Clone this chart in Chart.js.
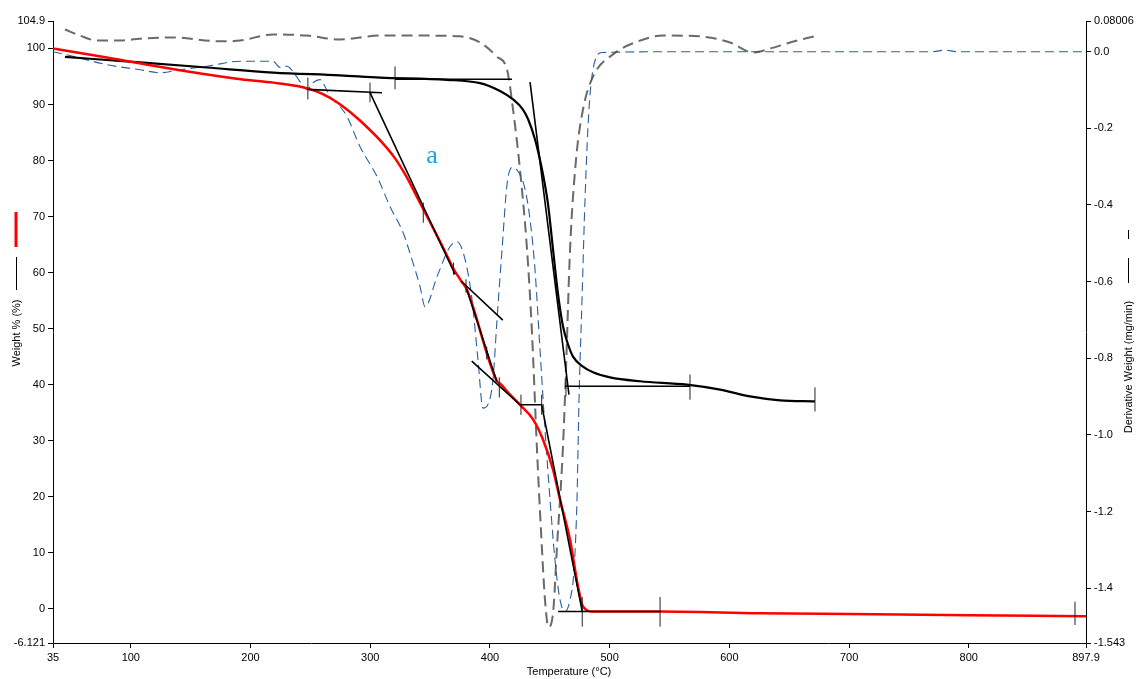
<!DOCTYPE html>
<html>
<head>
<meta charset="utf-8">
<script src="https://cdn.jsdelivr.net/npm/chart.js@4/dist/chart.umd.min.js"></script>
<style>
html,body{margin:0;padding:0;background:#fff;}
#wrap{width:1137px;height:679px;position:relative;}
</style>
</head>
<body>
<div id="wrap"><canvas id="c" width="1137" height="679"></canvas></div>
<script>
// ---------- axis ticks ----------
const xTickValues = [35, 100, 200, 300, 400, 500, 600, 700, 800, 897.9];
const xTickLabels = ['35', '100', '200', '300', '400', '500', '600', '700', '800', '897.9'];
const yLeftTickValues = [-6.121, 0, 10, 20, 30, 40, 50, 60, 70, 80, 90, 100, 104.9];
const yLeftTickLabels = ['-6.121', '0', '10', '20', '30', '40', '50', '60', '70', '80', '90', '100', '104.9'];
const yRightTickValues = [-1.543, -1.4, -1.2, -1.0, -0.8, -0.6, -0.4, -0.2, 0.0, 0.08006];
const yRightTickLabels = ['-1.543', '-1.4', '-1.2', '-1.0', '-0.8', '-0.6', '-0.4', '-0.2', '0.0', '0.08006'];

// ---------- sample a (red) weight % ----------
const redTemp = [35, 80, 136, 192, 219, 239, 250, 260, 270, 280, 290, 300, 310, 320, 330, 340, 350, 360, 370, 376, 380.6, 405.9, 408.4, 416.8, 425.1, 436, 444.3, 452.7, 458.5, 466.9, 473.6, 477.7, 486.1, 542, 625, 700, 800, 897.9];
const redWeight = [100, 98.4, 96.3, 94.5, 93.9, 93.3, 92.7, 91.9, 90.7, 89.2, 87.4, 85.4, 83.2, 80.6, 77.2, 73.1, 69.0, 64.8, 60.5, 58.5, 57.0, 40.6, 40.2, 38.2, 36.4, 33.8, 30.2, 24.8, 19.5, 12.3, 3.9, 0.4, -0.5, -0.5, -0.8, -0.95, -1.15, -1.35];

// ---------- second sample (black) weight % ----------
const blackTemp = [45, 107.7, 163.6, 219, 274.7, 308.2, 364.1, 391.7, 408.4, 419.3, 427.6, 431.8, 437.6, 443.5, 448.5, 452.7, 456.9, 461, 465.2, 469.4, 477.7, 486.1, 500.3, 525.4, 564.6, 592.2, 617.2, 642.3, 671.5];
const blackWeight = [98.5, 97.5, 96.6, 95.7, 95.2, 94.8, 94.4, 93.8, 92.4, 90.9, 89.1, 87.4, 83.8, 78.4, 72.2, 64.1, 56.1, 50.4, 47.2, 45.0, 43.2, 42.2, 41.3, 40.6, 40.0, 39.1, 37.9, 37.2, 37.0];

// ---------- derivative of sample a (blue dashed) ----------
const blueTemp = [35, 51.7, 80.1, 107.7, 124.4, 141.1, 163.6, 191.2, 218.8, 224.6, 230.5, 235.5, 241.3, 247.2, 252.2, 258, 266.4, 274.7, 280.6, 291.5, 305.7, 316.5, 327.4, 335.7, 341.6, 345.8, 355.8, 366.6, 372.5, 379.2, 385, 390, 394.2, 398.4, 402.5, 405.9, 410.1, 414.3, 418.4, 423.4, 429.3, 433.5, 437.6, 441.8, 446, 450.2, 454.3, 458.5, 462.7, 466.9, 470.2, 472.7, 474.4, 476.9, 479.4, 482.7, 486.9, 493.6, 575.5, 770, 780, 790, 897.9];
const blueDeriv = [0.0, -0.012, -0.034, -0.047, -0.055, -0.047, -0.038, -0.025, -0.025, -0.041, -0.038, -0.052, -0.078, -0.099, -0.081, -0.073, -0.117, -0.143, -0.169, -0.248, -0.326, -0.404, -0.472, -0.551, -0.613, -0.666, -0.587, -0.509, -0.496, -0.542, -0.647, -0.804, -0.93, -0.92, -0.856, -0.699, -0.516, -0.346, -0.302, -0.312, -0.359, -0.438, -0.568, -0.777, -0.986, -1.169, -1.326, -1.430, -1.461, -1.430, -1.352, -1.169, -0.908, -0.647, -0.386, -0.151, -0.034, -0.002, 0.0, 0.0, 0.004, 0.0, 0.0];

// ---------- derivative of second sample (grey dashed) ----------
const greyTemp = [45, 57.6, 71.8, 91, 107.7, 135.2, 174.5, 191.2, 218.8, 247.2, 274.7, 308.2, 341.6, 375, 391.7, 405.9, 414.3, 419.3, 425.1, 431, 435.1, 439.3, 442.6, 446, 448.9, 452.7, 456, 461, 463.5, 466.9, 471.9, 477.7, 486.1, 502.8, 521.2, 544.6, 575.5, 600.5, 619.7, 633.9, 650.7, 670.8];
const greyDeriv = [0.058, 0.042, 0.029, 0.029, 0.034, 0.037, 0.027, 0.029, 0.045, 0.042, 0.032, 0.042, 0.042, 0.040, 0.024, -0.013, -0.047, -0.151, -0.308, -0.517, -0.733, -1.039, -1.248, -1.431, -1.501, -1.465, -1.292, -1.031, -0.830, -0.517, -0.282, -0.151, -0.065, -0.007, 0.024, 0.042, 0.040, 0.024, -0.002, 0.008, 0.024, 0.040];

// ---------- onset construction lines (null separates segments) ----------
const guideTemp = [247.2, 309.8, null, 299.8, 370.8, null, 375.9, 410.7, null, 380.6, 405.6, null, 384.8, 425.1, 443.2, 477.1, null, 456.9, 542.1, null, 320.7, 418.4, null, 433.5, 466.0, null, 462.7, 567.1];
const guideWeight = [92.7, 92.1, null, 92.1, 59.7, null, 58.5, 51.5, null, 57.0, 40.6, null, 44.2, 36.4, 36.4, -0.5, null, -0.5, -0.5, null, 94.5, 94.5, null, 94.0, 38.2, null, 39.7, 39.7];
const markTemp = [247.9, 299.8, 344.3, 369.5, 380, 397.3, 407.8, 425.9, 443.2, 477.1, 542.1, 888.7, 320.7, 463.5, 567.1, 671.5];
const markLow  = [90.9, 90.4, 68.9, 59.6, 56.4, 44.5, 37.7, 34.6, 34.6, -3.2, -3.2, -2.9, 92.7, 37.9, 37.3, 35.2];
const markHigh = [94.8, 93.9, 72.5, 61.8, 58.8, 46.8, 41.3, 38.2, 38.2, 2.1, 2.1, 1.25, 96.8, 41.5, 41.8, 39.5];

// ---------- build library data ----------
const pts = (xs, ys) => xs.map((x, i) => ({x: x === null ? NaN : x, y: ys[i]}));
const markPts = [];
markTemp.forEach((t, i) => { markPts.push({x: t, y: markLow[i]}, {x: t, y: markHigh[i]}, {x: t, y: null}); });

const FONT = '"Liberation Sans", Arial, sans-serif';

function fixTicks(values) {
  return function (scale) { scale.ticks = values.map(v => ({value: v})); };
}

const titles = {
  id: 'titles',
  afterDraw(chart) {
    const ctx = chart.ctx;
    ctx.save();
    ctx.fillStyle = '#000';
    ctx.font = '11px ' + FONT;
    ctx.textAlign = 'center';
    ctx.textBaseline = 'middle';
    ctx.fillText('Temperature (\u00B0C)', 569, 672);

    ctx.save();
    ctx.translate(17, 333);
    ctx.rotate(-Math.PI / 2);
    ctx.fillText('Weight % (%)', 0, 0);
    ctx.restore();

    ctx.save();
    ctx.translate(1129, 367);
    ctx.rotate(-Math.PI / 2);
    ctx.fillText('Derivative Weight (mg/min)', 0, 0);
    ctx.restore();

    ctx.strokeStyle = '#000';
    ctx.lineWidth = 1;
    ctx.beginPath();
    ctx.moveTo(16.5, 257); ctx.lineTo(16.5, 290);
    ctx.moveTo(1128.5, 258); ctx.lineTo(1128.5, 283);
    ctx.moveTo(1128.5, 230); ctx.lineTo(1128.5, 239);
    ctx.stroke();
    ctx.strokeStyle = '#ff0000';
    ctx.lineWidth = 3;
    ctx.beginPath();
    ctx.moveTo(16, 212); ctx.lineTo(16, 247);
    ctx.stroke();

    ctx.fillStyle = '#19a3e6';
    ctx.font = '26px "Liberation Serif", "Times New Roman", serif';
    ctx.fillText('a', 432, 156);
    ctx.restore();
  }
};

const axisCommon = {
  grid: {display: true, drawOnChartArea: false, drawTicks: true, tickLength: 5, color: '#000', lineWidth: 1},
  border: {display: true, color: '#000', width: 1}
};

new Chart(document.getElementById('c'), {
  type: 'line',
  data: {
    datasets: [
      {data: pts(guideTemp, guideWeight), yAxisID: 'y', borderColor: '#000', borderWidth: 1.6, pointRadius: 0, spanGaps: false, tension: 0},
      {data: markPts, yAxisID: 'y', borderColor: '#222', borderWidth: 1, pointRadius: 0, spanGaps: false, tension: 0},
      {data: pts(redTemp, redWeight), yAxisID: 'y', borderColor: '#ff0000', borderWidth: 2.5, pointRadius: 0, cubicInterpolationMode: 'monotone'},
      {data: pts(blackTemp, blackWeight), yAxisID: 'y', borderColor: '#000', borderWidth: 2.2, pointRadius: 0, cubicInterpolationMode: 'monotone'},
      {data: pts(greyTemp, greyDeriv), yAxisID: 'y2', borderColor: 'rgba(80,80,80,0.85)', borderWidth: 2, borderDash: [11, 6], pointRadius: 0, cubicInterpolationMode: 'monotone'},
      {data: pts(blueTemp, blueDeriv), yAxisID: 'y2', borderColor: '#2b5f9e', borderWidth: 1.1, borderDash: [9, 5], pointRadius: 0, cubicInterpolationMode: 'monotone'}
    ]
  },
  options: {
    responsive: false,
    animation: false,
    events: [],
    layout: {padding: {top: 21, left: 0, right: 0, bottom: 0}},
    plugins: {legend: {display: false}, tooltip: {enabled: false}},
    scales: {
      x: Object.assign({
        type: 'linear', min: 35, max: 897.9,
        afterBuildTicks: fixTicks(xTickValues),
        afterFit(s) { s.height = 36; },
        ticks: {autoSkip: false, maxRotation: 0, padding: 3, color: '#000', font: {family: FONT, size: 11},
          callback: (v, i) => xTickLabels[i]}
      }, axisCommon),
      y: Object.assign({
        type: 'linear', position: 'left', min: -6.121, max: 104.9,
        afterBuildTicks: fixTicks(yLeftTickValues),
        afterFit(s) { s.width = 53; },
        ticks: {autoSkip: false, padding: 3, color: '#000', font: {family: FONT, size: 11},
          callback: (v, i) => yLeftTickLabels[i]}
      }, axisCommon),
      y2: Object.assign({
        type: 'linear', position: 'right', min: -1.543, max: 0.08006,
        afterBuildTicks: fixTicks(yRightTickValues),
        afterFit(s) { s.width = 51; },
        ticks: {autoSkip: false, padding: 3, color: '#000', font: {family: FONT, size: 11},
          callback: (v, i) => yRightTickLabels[i]}
      }, axisCommon)
    }
  },
  plugins: [titles]
});
</script>
</body>
</html>
